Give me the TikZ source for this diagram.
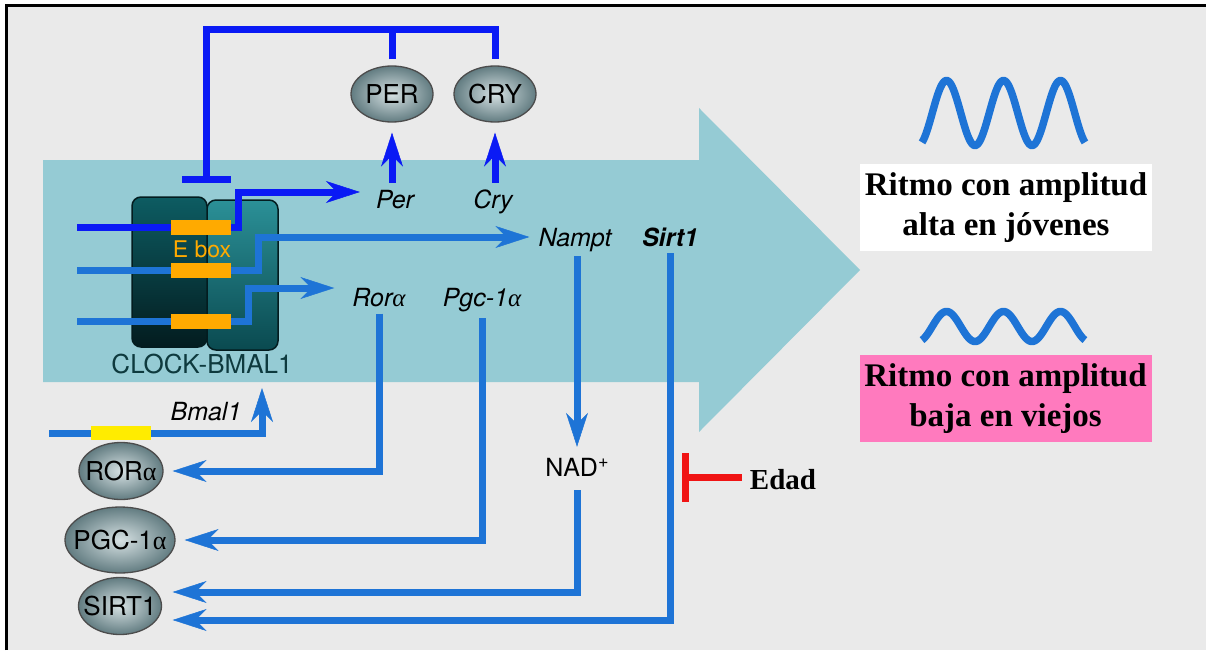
\documentclass[tikz,border=0pt]{standalone}
\usepackage{fontspec}
\setmainfont{TeX Gyre Heros}
\newfontfamily\rmbold{Liberation Serif}
\newfontfamily\grk{Liberation Serif}
\usepackage{xcolor}
\usetikzlibrary{arrows.meta, shapes.geometric, positioning}

\definecolor{bggray}{RGB}{234,234,234}
\definecolor{tealarrow}{RGB}{149,203,212}
\definecolor{pureblue}{RGB}{10,26,245}
\definecolor{midblue}{RGB}{30,116,214}
\definecolor{eboxorange}{RGB}{255,170,0}
\definecolor{boxyellow}{RGB}{255,236,0}
\definecolor{agepink}{RGB}{255,122,190}
\definecolor{agered}{RGB}{240,20,20}
\definecolor{protdark}{RGB}{98,124,129}
\definecolor{protlight}{RGB}{214,225,227}
\definecolor{clockdark}{RGB}{3,28,31}
\definecolor{clocktop}{RGB}{13,92,98}
\definecolor{clockmid}{RGB}{43,144,151}
\definecolor{clockdeep}{RGB}{10,74,80}
\definecolor{clocktext}{RGB}{14,58,62}

\newcommand{\lblsize}{\fontsize{25}{30}\selectfont}
\newcommand{\alfa}{{\grk α}}

\tikzset{
  lbl/.style={font=\lblsize, inner sep=0pt, text height=18pt, text depth=5pt},
  gene/.style={lbl, font=\lblsize\itshape},
  prot/.style={ellipse, draw=black!70, line width=1.3pt, inner color=protlight, outer color=protdark},
  plbl/.style={font=\fontsize{26}{30}\selectfont, inner sep=0pt},
  path1/.style={pureblue, line width=7pt},
  path2/.style={midblue, line width=7pt},
  arr/.style={-{Stealth[length=34pt, width=22pt, inset=11pt, line width=0.5pt]}},
  ebox/.style={fill=eboxorange, minimum width=60pt, minimum height=15pt, inner sep=0pt},
  ritmo/.style={font=\rmbold\bfseries\fontsize{33}{40}\selectfont, minimum width=292pt, minimum height=87pt, align=center, inner sep=0pt},
  wave/.style={midblue, line width=7.5pt},
}

\begin{document}
\begin{tikzpicture}[x=1pt, y=-1pt]
    \useasboundingbox (0,0) rectangle (1206,650);

    % Frame
    \fill[white] (0,0) rectangle (1206,650);
    \fill[bggray] (6.5,5.5) rectangle (1206,650);
    \draw[line width=3pt] (6.5,650) -- (6.5,5.5) -- (1206,5.5);

    % Big arrow
    \fill[tealarrow] (43,160) -- (699,160) -- (699,108) -- (860,270) -- (699,432) -- (699,382) -- (43,382) -- cycle;

    % CLOCK-BMAL1 complex
    \node[draw=clockdark, line width=1.5pt, rounded corners=9pt, top color=clockmid, bottom color=clockdeep,
          minimum width=71pt, minimum height=150pt] (clR) at (242.5,275) {};
    \node[draw=clockdark, line width=1.5pt, rounded corners=9pt, top color=clocktop, bottom color=clockdark,
          minimum width=75pt, minimum height=150pt] (clL) at (169.5,272) {};
    \node[lbl, text=clocktext, font=\fontsize{26}{30}\selectfont] (cbtext) at (202,367) {CLOCK-BMAL1};
    \node[lbl, text=eboxorange, font=\fontsize{23}{28}\selectfont] (eboxt) at (202,251) {E box};

    % E boxes
    \node[ebox] (eb1) at (201,227.5) {};
    \node[ebox] (eb2) at (201,270.5) {};
    \node[ebox] (eb3) at (201,321.5) {};

    % Proteins
    \node[prot, minimum width=82pt, minimum height=56pt, label={[plbl]center:PER}] (perp) at (392,94) {};
    \node[prot, minimum width=82pt, minimum height=56pt, label={[plbl]center:CRY}] (cryp) at (495,94) {};
    \node[prot, minimum width=84pt, minimum height=57pt, label={[plbl]center:ROR\alfa}] (rorp) at (121,471) {};
    \node[prot, minimum width=110pt, minimum height=66pt, label={[plbl]center:PGC-1\alfa}] (pgcp) at (120,540) {};
    \node[prot, minimum width=83pt, minimum height=57pt, label={[plbl]center:SIRT1}] (sirtp) at (120,606) {};

    % Genes
    \node[gene] (per) at (395,202) {Per};
    \node[gene] (cry) at (493,202) {Cry};
    \node[gene] (nampt) at (575,240) {Nampt};
    \node[gene, font=\lblsize\bfseries\itshape] (sirt) at (670,240) {Sirt1};
    \node[gene] (rora) at (379,300) {Ror\alfa};
    \node[gene] (pgc) at (482,300) {Pgc-1\alfa};
    \node[gene] (bmal) at (206,414) {Bmal1};
    \node[lbl] (nad) at (577,470) {NAD\raisebox{9pt}{\fontsize{18}{18}\selectfont +}};

    % Feedback of PER and CRY
    \coordinate (tb) at (206,183);
    \coordinate (rail) at (0,30);
    \draw[path1, {Bar[width=49pt]}-] (tb) -- (tb |- rail) -| ([yshift=6pt]cryp.north);
    \draw[path1] ([yshift=6pt]perp.north) -- (perp.north |- rail);
    \draw[path1, arr, shorten <=7.5pt, shorten >=10pt] (per.north -| perp.south) -- (perp.south);
    \draw[path1, arr, shorten <=7.5pt, shorten >=10pt] (cry.north -| cryp.south) -- (cryp.south);

    % Transcription from the E boxes
    \coordinate (in1) at (77,227.5);
    \coordinate (in2) at (77,270.5);
    \coordinate (in3) at (77,321.5);
    \draw[path1] (in1) -- (eb1.west);
    \draw[path2] (in2) -- (eb2.west);
    \draw[path2] (in3) -- (eb3.west);
    \draw[path1, arr, shorten >=16pt] (eb1.east) -- ++(7,0) |- ([yshift=10pt]per.west);
    \draw[path2, arr, shorten >=9pt] (eb2.east) -- ++(27,0) |- ([yshift=3pt]nampt.west);
    \draw[path2, arr, shorten >=18pt] (eb3.east) -- ++(17,0) |- ([yshift=12pt]rora.west);

    % Outputs back to the proteins
    \draw[path2, arr, shorten <=2pt, shorten >=9pt] (rora.south) |- (rorp.east);
    \draw[path2, arr, shorten <=6.5pt, shorten >=9pt] (pgc.south) |- (pgcp.east);
    \draw[path2, arr, shorten <=4.5pt, shorten >=11.5pt] (nampt.south -| nad.north) -- (nad.north);
    \draw[path2, arr, shorten <=8.5pt, shorten >=10.5pt] (nad.south) |- ([yshift=14pt]sirtp.east);
    \draw[path2, arr, shorten <=1.5pt, shorten >=10.5pt] (sirt.south) |- ([yshift=-14pt]sirtp.east);

    % Bmal1
    \coordinate (bin) at (49,433);
    \coordinate (btip) at (262,388);
    \draw[path2, arr] (bin) -| (btip);
    \node[fill=boxyellow, minimum width=60pt, minimum height=14pt, inner sep=0pt] (ybox) at (121,433) {};

    % Age
    \node[font=\rmbold\bfseries\fontsize{29}{34}\selectfont, inner sep=0pt] (edad) at (783,480) {Edad};
    \coordinate (edadT) at (682,477);
    \draw[agered, line width=7pt, {Bar[width=49pt]}-, shorten >=8pt] (edadT) -- (edadT -| edad.west);

    % Rhythms
    \draw[wave] plot[domain=0.44:18.41, samples=150, smooth] ({922+(\x-0.44)*9.07}, {113+32.5*cos(\x r)});
    \node[ritmo, fill=white] (young) at (1006,207.5) {Ritmo con amplitud\\alta en jóvenes};
    \draw[wave] plot[domain=0.44:18.41, samples=150, smooth] ({922+(\x-0.44)*9.07}, {326.5+15*cos(\x r)});
    \node[ritmo, fill=agepink] (old) at (1005.5,398.5) {Ritmo con amplitud\\baja en viejos};

\end{tikzpicture}
\end{document}
